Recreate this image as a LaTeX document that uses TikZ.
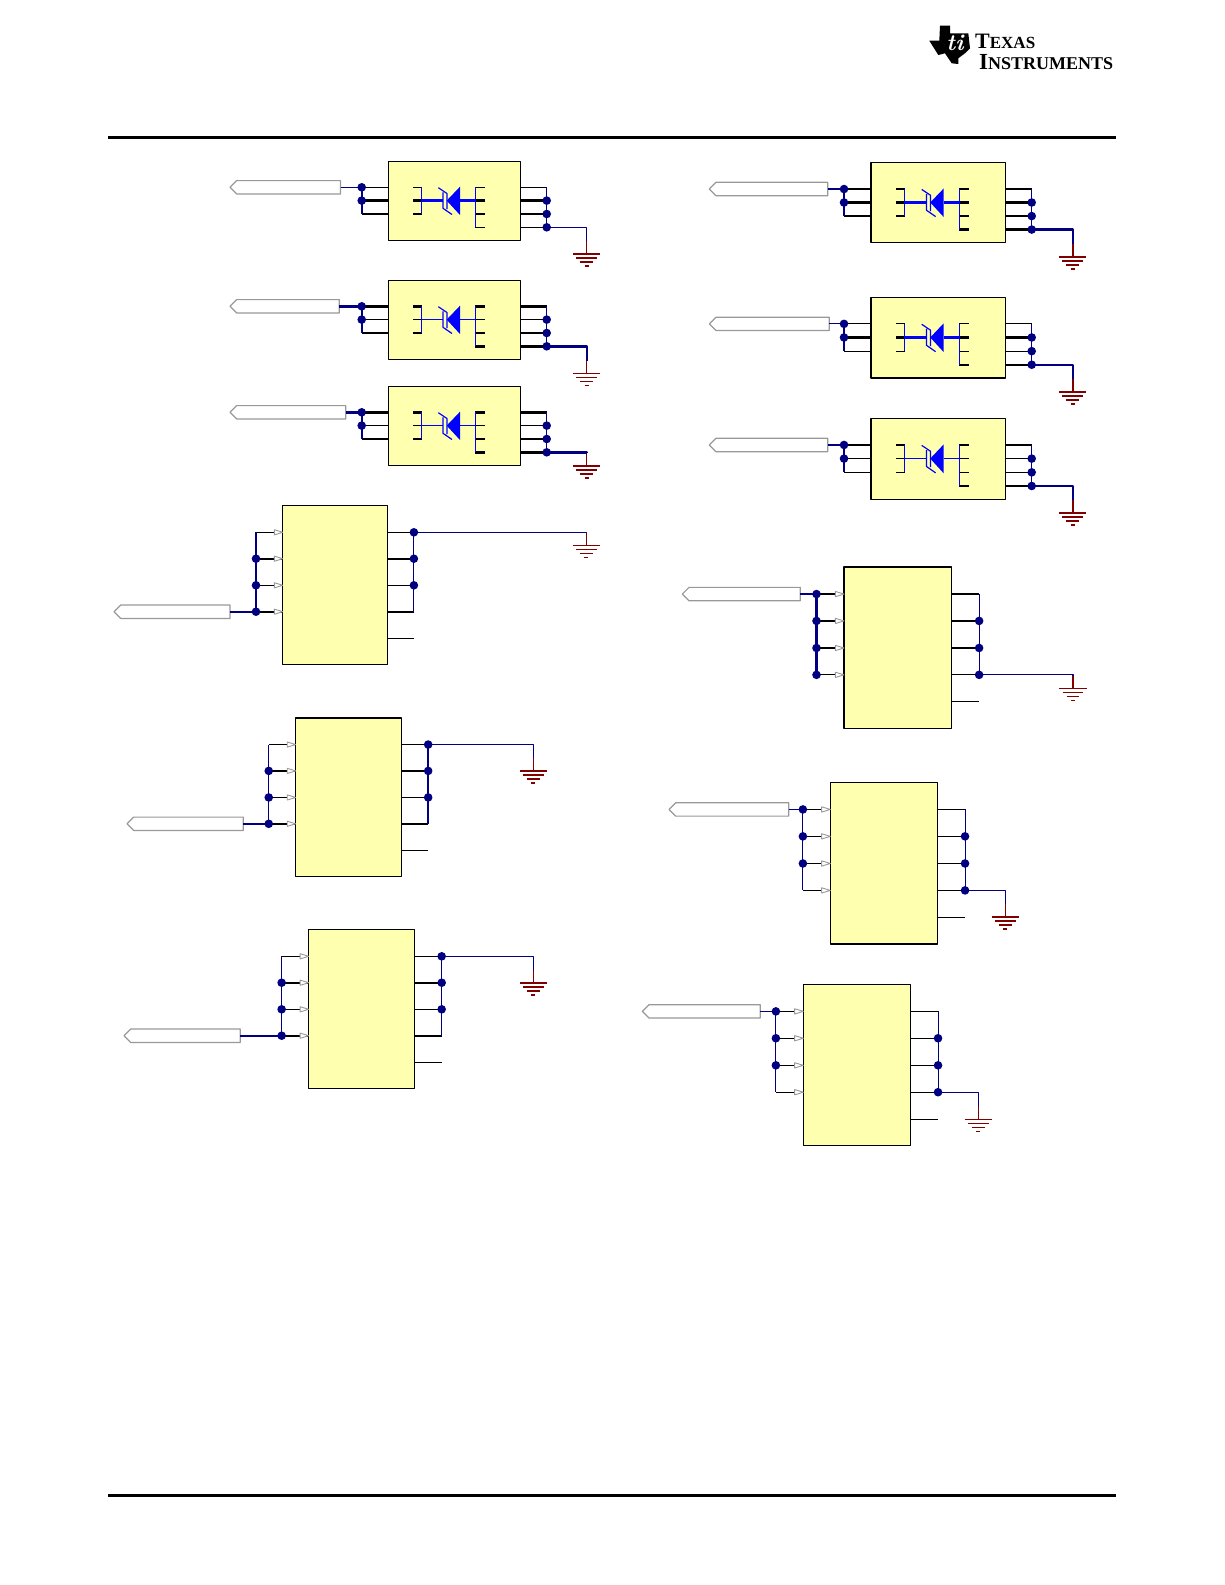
\documentclass[tikz,border=0pt]{standalone}
\usepackage{fontspec}
\newfontfamily\logofont{Liberation Serif}
\usetikzlibrary{shapes.symbols}
\definecolor{chipfill}{HTML}{FFFFB0}
\definecolor{netblue}{HTML}{000080}
\definecolor{gndred}{HTML}{800000}
\definecolor{portgray}{HTML}{999999}
\tikzset{
chipbox/.style={draw=black,fill=chipfill,line width=1.5pt,anchor=north west,inner sep=0pt,outer sep=0pt},
portbox/.style={signal,signal to=west,signal from=nowhere,signal pointer angle=90,draw=portgray,fill=white,line width=1.2pt,inner sep=0pt,outer sep=0pt,minimum height=13.4pt,anchor=east},
junction/.style={circle,fill=netblue,inner sep=0pt,outer sep=0pt,minimum size=8.6pt},
wire/.style={draw=netblue,line width=1.2pt},
pinline/.style={draw=black},
symline/.style={draw=blue,line width=1.2pt},
pinarrow/.style={draw=portgray,fill=white,line width=0.9pt},
rule/.style={draw=black,line width=3pt}
}
\newcommand{\portnode}[4]{\path (#3,0 |- #4) node[portbox,minimum width={(#3-#2)*1pt}] (#1) {};}
\newcommand{\gndsym}[5]{
\coordinate (#1) at (#2,#3-13);
\draw[gndred,line width=#4*1.2pt] (#1)--(#2,#3);
\draw[gndred,line width=#5*1.2pt] (#2-13.7,#3)--(#2+13.7,#3) (#2-10.3,#3+4)--(#2+10.3,#3+4) (#2-6.3,#3+8)--(#2+6.3,#3+8) (#2-2,#3+12)--(#2+2,#3+12);
}
\newcommand{\igbtblock}[8]{
\begin{scope}[shift={(#2,#3)},xscale=#4/132.4,yscale=#5/79]
\node[chipbox,minimum width=#4pt,minimum height=#5pt] (#1) at (0,0) {};
\foreach \k/\yy in {1/26,2/39.3,3/52.7,4/66}{
\coordinate (#1l\k) at (0,\yy);
\coordinate (#1lb\k) at (-26.6,\yy);
\coordinate (#1r\k) at (132.4,\yy);
\coordinate (#1rb\k) at (158.4,\yy);
}
\foreach \k/\w in {#6}{
\ifnum\k<4
\draw[pinline,line width=\w*1.2pt] (#1l\k)--(#1lb\k);
\draw[pinline,line width=\w*1.2pt] (25,0 |- #1l\k)--(33.4,0 |- #1l\k);
\fi
\ifnum\k=2
\draw[symline,line width=\w*1.2pt] (33.4,39.3)--(54.7,39.3) (71.7,39.3)--(87,39.3);
\fi
\draw[pinline,line width=\w*1.2pt] (#1r\k)--(#1rb\k);
\draw[pinline,line width=\w*1.2pt] (87,0 |- #1r\k)--(96.7,0 |- #1r\k);
}
\draw[symline] (33.4,26)--(33.4,52.7) (87,26)--(87,66);
\draw[symline] (50,26.4)--(58.7,32.2)--(58.7,47.7) (54.7,31)--(54.7,47)--(63.7,53.2);
\fill[blue] (58.4,39.3)--(71.7,25.4)--(71.7,53.7)--cycle;
\draw[wire,line width=#7pt] (#1lb1)--(#1lb3);
\draw[wire,line width=#8*1.2pt] (#1rb1)--(#1rb4);
\foreach \k in {1,2}{\node[junction] (#1jl\k) at (#1lb\k) {};}
\foreach \k in {2,3,4}{\node[junction] (#1jr\k) at (#1rb\k) {};}
\end{scope}
}
\newcommand{\mosblock}[9]{
\begin{scope}[shift={(#2,#3)},xscale=#4/104.6,yscale=#5/158.6]
\node[chipbox,minimum width=#4pt,minimum height=#5pt] (#1) at (0,0) {};
\foreach \k/\yy in {1/26.6,2/53,3/79.6,4/106,5/132.6}{
\coordinate (#1l\k) at (0,\yy);
\coordinate (#1lb\k) at (-26.7,\yy);
\coordinate (#1r\k) at (104.6,\yy);
\coordinate (#1rb\k) at (131.2,\yy);
}
\foreach \k/\w in {#6}{
\draw[pinline,line width=\w*1.2pt] (#1l\k)--(#1lb\k);
\draw[pinarrow] (-8.4,0 |- #1l\k) ++(0,-2.6)--++(8.4,2.6)--++(-8.4,2.6)--cycle;
\draw[pinline,line width=\w*1.2pt] (#1r\k)--(#1rb\k);
}
\draw[pinline,line width=1.2pt] (#1r5)--(#1rb5);
\foreach \wl/\wr in {#9}{
\draw[wire,line width=\wl*1.2pt] (#1lb1)--(#1lb4);
\draw[wire,line width=\wr*1.2pt] (#1rb1)--(#1rb4);
}
\foreach \k in {#7}{\node[junction] (#1jl\k) at (#1lb\k) {};}
\foreach \k in {#8}{\node[junction] (#1jr\k) at (#1rb\k) {};}
\end{scope}
}
\begin{document}
\begin{tikzpicture}[x=1pt,y=-1pt,line join=round]
\useasboundingbox (0,0) rectangle (1225,1585);
\draw[rule] (108,137)--(1116,137);
\draw[rule] (108,1495.3)--(1116,1495.3);
\fill[black] (940,25.7)--(950,25.7)--(950,33.3)--(968.3,33.3)--(970,48.3)--(965,53.3)--(958.3,58.3)--(958.3,64)--(951.7,63.3)--(945,53.3)--(938.3,55)--(929.3,40.7)--(939.3,40.7)--cycle;
\node[white,inner sep=0pt] (tiglyph) at (955,43) {\fontsize{23}{23}\selectfont\bfseries\itshape ti};
\node[anchor=base west,inner sep=0pt,align=left,font=\logofont\bfseries] (tiname) at (975,69) {\fontsize{22}{20}\selectfont T\fontsize{17}{20}\selectfont EXAS\\[4pt]\hspace*{4pt}\fontsize{23}{20}\selectfont I\fontsize{18}{20}\selectfont NSTRUMENTS};

\igbtblock{Qa}{388.3}{161.3}{132.4}{79}{1/1,2/2,3/1,4/1}{2}{1}
\portnode{Qaport}{230}{340.5}{Qalb1}
\gndsym{Qagnd}{586.7}{253.7}{1}{2}
\draw[wire] (Qaport.east)--(Qalb1);
\draw[wire] (Qarb4)-|(Qagnd);

\igbtblock{Qb}{388.3}{280.3}{132.4}{79}{1/2,2/1,3/1,4/2}{2}{1}
\portnode{Qbport}{230}{339.3}{Qblb1}
\gndsym{Qbgnd}{586.7}{373.7}{1}{1}
\draw[wire,line width=2.4pt] (Qbport.east)--(Qblb1);
\draw[wire,line width=2.4pt] (Qbrb4)-|(Qbgnd);

\igbtblock{Qc}{388.3}{386.3}{132.4}{79}{1/2,2/1,3/1,4/2}{2}{1}
\portnode{Qcport}{230}{345.7}{Qclb1}
\gndsym{Qcgnd}{586.7}{465.7}{1}{2}
\draw[wire,line width=2.4pt] (Qcport.east)--(Qclb1);
\draw[wire,line width=2.4pt] (Qcrb4)-|(Qcgnd);

\igbtblock{Qd}{871}{162.7}{134.3}{80}{1/1,2/2,3/1,4/2}{2}{1}
\portnode{Qdport}{709.3}{827.7}{Qdlb1}
\gndsym{Qdgnd}{1072.7}{256.7}{2}{2}
\draw[wire] (Qdport.east)--(Qdlb1);
\draw[wire,line width=2.4pt] (Qdrb4)-|(Qdgnd);

\igbtblock{Qe}{871}{297.3}{134.3}{80.7}{1/1,2/2,3/1,4/2}{2}{1}
\portnode{Qeport}{709.3}{829.3}{Qelb1}
\gndsym{Qegnd}{1072.7}{391.7}{2}{1.5}
\draw[wire] (Qeport.east)--(Qelb1);
\draw[wire,line width=2.4pt] (Qerb4)-|(Qegnd);

\igbtblock{Qf}{871}{418.3}{134.3}{81}{1/1,2/1,3/1,4/2}{2}{1}
\portnode{Qfport}{709.3}{827.7}{Qflb1}
\gndsym{Qfgnd}{1072.7}{512.7}{2}{2}
\draw[wire] (Qfport.east)--(Qflb1);
\draw[wire,line width=2.4pt] (Qfrb4)-|(Qfgnd);

\mosblock{Ua}{282.7}{505.7}{104.6}{158.6}{1/1,2/2,3/1,4/2}{2,3,4}{1,2,3}{1/0.85}
\portnode{Uaport}{114}{230}{Ualb4}
\gndsym{Uagnd}{586.3}{545.3}{1}{1}
\draw[wire,line width=2.4pt] (Uaport.east)--(Ualb4);
\draw[wire] (Uarb1)-|(Uagnd);

\mosblock{Ub}{295.7}{718}{105.6}{158.3}{1/1,2/2,3/1,4/2}{2,3,4}{1,2,3}{0.85/1.7}
\portnode{Ubport}{127}{243.3}{Ublb4}
\gndsym{Ubgnd}{533.3}{770.7}{1}{2}
\draw[wire,line width=2.4pt] (Ubport.east)--(Ublb4);
\draw[wire] (Ubrb1)-|(Ubgnd);

\mosblock{Uc}{308.7}{929.7}{106}{158.6}{1/1,2/2,3/1,4/2}{2,3,4}{1,2,3}{0.85/0.85}
\portnode{Ucport}{124}{240.3}{Uclb4}
\gndsym{Ucgnd}{533.3}{982.7}{1}{2}
\draw[wire,line width=2.4pt] (Ucport.east)--(Uclb4);
\draw[wire] (Ucrb1)-|(Ucgnd);

\mosblock{Ud}{844}{567}{107.7}{161.3}{1/2,2/2,3/2,4/1}{1,2,3,4}{2,3,4}{1.7/0.85}
\portnode{Udport}{682.3}{800.3}{Udlb1}
\gndsym{Udgnd}{1073}{688.3}{2}{1}
\draw[wire,line width=2.4pt] (Udport.east)--(Udlb1);
\draw[wire] (Udrb4)-|(Udgnd);

\mosblock{Ue}{830.3}{782.3}{107.4}{161.7}{1/1,2/1,3/1,4/1}{1,2,3}{2,3,4}{0.85/0.85}
\portnode{Ueport}{669}{788.7}{Uelb1}
\gndsym{Uegnd}{1005.3}{917}{1}{1}
\draw[wire] (Ueport.east)--(Uelb1);
\draw[wire] (Uerb4)-|(Uegnd);

\mosblock{Uf}{803.3}{984.3}{107.4}{161.4}{1/1,2/1,3/1,4/1}{1,2,3}{2,3,4}{0.85/0.85}
\portnode{Ufport}{642.3}{760.3}{Uflb1}
\gndsym{Ufgnd}{978.3}{1119.3}{1}{1}
\draw[wire] (Ufport.east)--(Uflb1);
\draw[wire] (Ufrb4)-|(Ufgnd);
\end{tikzpicture}
\end{document}
